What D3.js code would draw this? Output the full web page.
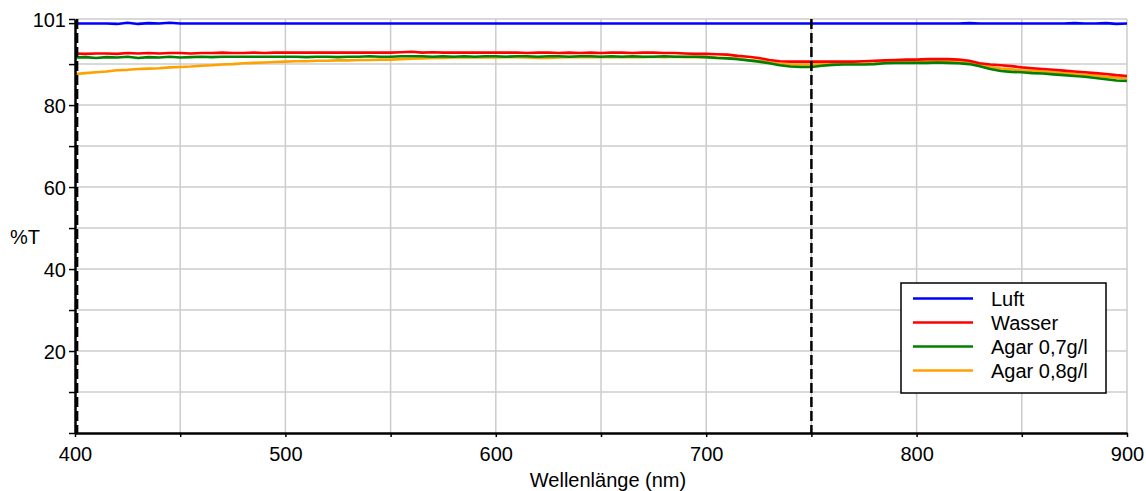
<!DOCTYPE html>
<html>
<head>
<meta charset="utf-8">
<script src="https://cdn.jsdelivr.net/npm/d3@7"></script>
<style>
  html, body { margin: 0; padding: 0; background: #fff; }
  svg { display: block; font-family: "Liberation Sans", Arial, sans-serif; }
</style>
</head>
<body>
<svg id="chart" width="1146" height="491"></svg>
<script>
// Sampling grid of the spectrometer scan (nm)
const wavelengths = d3.range(400, 901, 5);

// Transmission (%T) per medium, one value per sample
const luft = [
  99.9, 99.9, 99.9, 99.9, 99.8, 100.1, 99.8, 100.0, 99.9, 100.1,
  99.9, 99.9, 99.9, 99.9, 99.9, 99.9, 99.9, 99.9, 99.9, 99.9,
  99.9, 99.9, 99.9, 99.9, 99.9, 99.9, 99.9, 99.9, 99.9, 99.9,
  99.9, 99.9, 99.9, 99.9, 99.9, 99.9, 99.9, 99.9, 99.9, 99.9,
  99.9, 99.9, 99.9, 99.9, 99.9, 99.9, 99.9, 99.9, 99.9, 99.9,
  99.9, 99.9, 99.9, 99.9, 99.9, 99.9, 99.9, 99.9, 99.9, 99.9,
  99.9, 99.9, 99.9, 99.9, 99.9, 99.9, 99.9, 99.9, 99.9, 99.9,
  99.9, 99.9, 99.9, 99.9, 99.9, 99.9, 99.9, 99.9, 99.9, 99.9,
  99.9, 99.9, 99.9, 99.9, 99.9, 100.0, 99.9, 99.9, 99.9, 99.9,
  99.9, 99.9, 99.9, 99.9, 99.9, 100.0, 99.9, 99.9, 100.0, 99.8,
  99.9
];
const wasser = [
  92.6, 92.5, 92.6, 92.6, 92.5, 92.7, 92.6, 92.7, 92.6, 92.7,
  92.7, 92.6, 92.7, 92.7, 92.8, 92.7, 92.7, 92.8, 92.7, 92.8,
  92.8, 92.8, 92.8, 92.8, 92.8, 92.8, 92.8, 92.8, 92.8, 92.8,
  92.8, 92.9, 93.0, 92.8, 92.9, 92.8, 92.8, 92.8, 92.8, 92.8,
  92.8, 92.8, 92.8, 92.7, 92.8, 92.8, 92.7, 92.8, 92.7, 92.8,
  92.7, 92.8, 92.8, 92.7, 92.8, 92.8, 92.7, 92.7, 92.6, 92.5,
  92.5, 92.4, 92.3, 92.0, 91.8, 91.5, 91.0, 90.7, 90.6, 90.6,
  90.6, 90.6, 90.6, 90.6, 90.6, 90.7, 90.8, 90.9, 91.0, 91.1,
  91.1, 91.2, 91.2, 91.2, 91.1, 90.8, 90.2, 89.9, 89.7, 89.5,
  89.2, 89.0, 88.8, 88.6, 88.4, 88.2, 88.0, 87.8, 87.6, 87.3,
  87.1
];
const agar07 = [
  91.6, 91.7, 91.5, 91.7, 91.6, 91.8, 91.5, 91.7, 91.6, 91.8,
  91.6, 91.7, 91.8, 91.7, 91.8, 91.8, 91.8, 91.8, 91.8, 91.8,
  91.8, 91.8, 91.7, 91.8, 91.8, 91.7, 91.8, 91.8, 91.9, 91.8,
  91.8, 91.9, 91.9, 91.9, 91.8, 91.9, 91.8, 91.9, 91.8, 91.9,
  91.9, 91.8, 91.9, 91.9, 91.8, 91.9, 91.9, 91.8, 91.9, 91.9,
  91.8, 91.9, 91.8, 91.9, 91.8, 91.8, 91.9, 91.8, 91.8, 91.8,
  91.7, 91.5, 91.4, 91.2, 90.9, 90.6, 90.2, 89.7, 89.4, 89.3,
  89.3, 89.6, 89.8, 89.9, 89.9, 89.9, 90.0, 90.2, 90.3, 90.3,
  90.3, 90.3, 90.4, 90.3, 90.2, 90.0, 89.5, 88.8, 88.3, 88.1,
  88.0, 87.8, 87.7, 87.5, 87.3, 87.1, 86.9, 86.6, 86.3, 86.0,
  85.9
];
const agar08 = [
  87.6, 87.8, 88.0, 88.2, 88.5, 88.6, 88.8, 88.9, 89.0, 89.2,
  89.3, 89.4, 89.6, 89.7, 89.9, 90.0, 90.2, 90.3, 90.4, 90.5,
  90.6, 90.7, 90.7, 90.8, 90.8, 90.9, 90.9, 91.0, 91.0, 91.1,
  91.1, 91.2, 91.3, 91.4, 91.5, 91.5, 91.6, 91.6, 91.6, 91.6,
  91.6, 91.7, 91.7, 91.6, 91.5, 91.5, 91.6, 91.7, 91.7, 91.7,
  91.7, 91.7, 91.7, 91.7, 91.7, 91.8, 91.7, 91.8, 91.7, 91.7,
  91.7, 91.6, 91.5, 91.3, 91.0, 90.8, 90.4, 90.1, 89.9, 89.9,
  89.9, 90.0, 90.1, 90.1, 90.1, 90.1, 90.2, 90.4, 90.5, 90.6,
  90.6, 90.7, 90.7, 90.7, 90.6, 90.4, 89.9, 89.3, 88.9, 88.7,
  88.5, 88.4, 88.2, 88.0, 87.8, 87.6, 87.4, 87.2, 86.9, 86.7,
  86.6
];

const seriesNames = ["Luft", "Wasser", "Agar 0,7g/l", "Agar 0,8g/l"];
const seriesColors = ["#0000ff", "#ff0000", "#008000", "#ffa200"];
const seriesValues = [luft, wasser, agar07, agar08];

// Axis ticks and labels
const xTicks = [400, 450, 500, 550, 600, 650, 700, 750, 800, 850, 900];
const xLabelTicks = [400, 500, 600, 700, 800, 900];
const yTicks = [0, 10, 20, 30, 40, 50, 60, 70, 80, 90, 100, 101];
const yLabelTicks = [20, 40, 60, 80, 101];
const markerWavelengths = [401, 750];

const svg = d3.select("#chart");
const margin = { left: 75, right: 19, top: 19, bottom: 58 };
const W = 1146, H = 491;

const x = d3.scaleLinear().domain([400, 900]).range([margin.left, W - margin.right]);
const y = d3.scaleLinear().domain([0, 101]).range([H - margin.bottom, margin.top]);

// Grid
const grid = svg.append("g").attr("stroke", "#cccccc").attr("stroke-width", 1.5);
grid.selectAll("line.v").data(xTicks.filter(d => d > 400)).enter().append("line")
  .attr("x1", d => x(d)).attr("x2", d => x(d))
  .attr("y1", y(0)).attr("y2", y(101));
grid.selectAll("line.h").data(yTicks.filter(d => d > 0 && d !== 100)).enter().append("line")
  .attr("x1", x(400)).attr("x2", x(900))
  .attr("y1", d => y(d)).attr("y2", d => y(d));

// Spectra
const line = d3.line().x((d, i) => x(wavelengths[i])).y(d => y(d));
const drawOrder = [3, 2, 1, 0];
drawOrder.forEach(k => {
  svg.append("path")
    .datum(seriesValues[k])
    .attr("fill", "none")
    .attr("stroke", seriesColors[k])
    .attr("stroke-width", 2.6)
    .attr("stroke-linejoin", "round")
    .attr("d", line);
});

// Dashed marker lines
svg.selectAll("line.marker").data(markerWavelengths).enter().append("line")
  .attr("x1", d => x(d)).attr("x2", d => x(d))
  .attr("y1", y(101)).attr("y2", y(0))
  .attr("stroke", "#000").attr("stroke-width", 2.5)
  .attr("stroke-dasharray", "10,4");

// Axes
const xAxis = d3.axisBottom(x).tickValues(xTicks).tickSize(4).tickSizeOuter(0)
  .tickFormat(d => xLabelTicks.includes(d) ? d : "");
const gx = svg.append("g").attr("transform", `translate(0,${y(0)})`).call(xAxis);
gx.select(".domain").attr("stroke", "#000").attr("stroke-width", 2.5);
gx.selectAll(".tick line").attr("stroke", "#000").attr("stroke-width", 1.5);
gx.selectAll(".tick text").attr("font-size", 20).attr("fill", "#000")
  .attr("font-family", "Liberation Sans, Arial, sans-serif").attr("dy", "0").attr("y", 28);

const yAxis = d3.axisLeft(y).tickValues(yTicks).tickSize(6).tickSizeOuter(0)
  .tickFormat(d => yLabelTicks.includes(d) ? d : "");
const gy = svg.append("g").attr("transform", `translate(${x(400)},0)`).call(yAxis);
gy.select(".domain").attr("stroke", "#000").attr("stroke-width", 2.5);
gy.selectAll(".tick line").attr("stroke", "#000").attr("stroke-width", 1.5);
gy.selectAll(".tick text").attr("font-size", 20).attr("fill", "#000")
  .attr("font-family", "Liberation Sans, Arial, sans-serif").attr("x", -9).attr("dy", "0.37em");

// Axis titles
svg.append("text").attr("x", 10).attr("y", 244)
  .attr("font-size", 20).attr("fill", "#000").text("%T");
svg.append("text").attr("x", 608).attr("y", 487).attr("text-anchor", "middle")
  .attr("font-size", 20).attr("fill", "#000").text("Wellenlänge (nm)");

// Legend
const lg = svg.append("g").attr("transform", "translate(901,283)");
lg.append("rect").attr("width", 205).attr("height", 110)
  .attr("fill", "#fff").attr("stroke", "#000").attr("stroke-width", 1.5);
seriesNames.forEach((name, i) => {
  const yy = 15.5 + i * 24;
  lg.append("line").attr("x1", 12).attr("x2", 72).attr("y1", yy).attr("y2", yy)
    .attr("stroke", seriesColors[i]).attr("stroke-width", 2.6);
  lg.append("text").attr("x", 90).attr("y", yy).attr("dy", "0.36em")
    .attr("font-size", 20).attr("fill", "#000").text(name);
});
</script>
</body>
</html>
